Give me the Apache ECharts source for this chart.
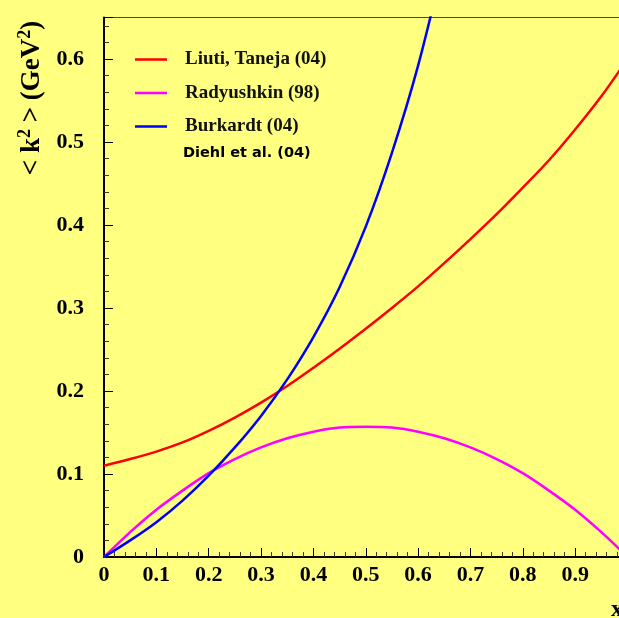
<!DOCTYPE html>
<html>
<head>
<meta charset="utf-8">
<script src="https://cdn.jsdelivr.net/npm/echarts@6/dist/echarts.min.js"></script>
<style>
  html, body { margin: 0; padding: 0; background: #ffff80; }
  #chart { width: 619px; height: 618px; }
</style>
</head>
<body>
<div id="chart"></div>
<script>
// x values (momentum fraction) at which the curves are sampled
const xs = [0, 0.05, 0.1, 0.15, 0.2, 0.25, 0.3, 0.35, 0.4, 0.45, 0.5,
            0.55, 0.6, 0.65, 0.7, 0.75, 0.8, 0.85, 0.9, 0.95, 1.0];

// <k^2> in GeV^2 for each model
const liutiTaneja = [0.110, 0.118, 0.127, 0.138, 0.152, 0.168, 0.186, 0.206, 0.228, 0.251, 0.275,
                     0.300, 0.326, 0.354, 0.383, 0.413, 0.445, 0.478, 0.515, 0.555, 0.600];
const radyushkin  = [0, 0.030, 0.057, 0.080, 0.101, 0.118, 0.132, 0.143, 0.151, 0.156, 0.157,
                     0.156, 0.151, 0.143, 0.132, 0.118, 0.101, 0.080, 0.057, 0.030, 0];
const burkardt    = [0, 0.020, 0.042, 0.068, 0.098, 0.132, 0.170, 0.214, 0.265, 0.325, 0.398,
                     0.487, 0.592, 0.720];

const seriesNames = ['Liuti, Taneja (04)', 'Radyushkin (98)', 'Burkardt (04)'];
const seriesColors = ['#ff0000', '#ff00ff', '#0000ff'];
const extraLegendText = 'Diehl et al. (04)';

const xTicks = [0, 0.1, 0.2, 0.3, 0.4, 0.5, 0.6, 0.7, 0.8, 0.9];
const yTicks = [0, 0.1, 0.2, 0.3, 0.4, 0.5, 0.6];

function pairs(vals) {
  return vals.map((v, i) => [xs[i], v]);
}

const serif = '"Liberation Serif", "Times New Roman", serif';

const chart = echarts.init(document.getElementById('chart'), null, { renderer: 'canvas' });

const lineSeries = [liutiTaneja, radyushkin, burkardt].map((vals, i) => ({
  name: seriesNames[i],
  type: 'line',
  data: pairs(vals),
  smooth: 0.3,
  showSymbol: false,
  clip: true,
  lineStyle: { color: seriesColors[i], width: 2.5 },
  itemStyle: { color: seriesColors[i] },
  z: 3 + i
}));

chart.setOption({
  backgroundColor: '#ffff80',
  animation: false,
  grid: {
    left: 104, right: -8.5, top: 17.5, bottom: 61,
    outerBoundsMode: 'none',
    containLabel: false,
    show: true, borderColor: '#4a4a30', borderWidth: 1, backgroundColor: 'transparent'
  },
  legend: {
    show: true,
    orient: 'vertical',
    left: 135, top: 50,
    padding: 0,
    itemWidth: 32, itemHeight: 2.5,
    itemGap: 14.5,
    icon: 'rect',
    data: seriesNames,
    selectedMode: false,
    textStyle: {
      fontFamily: serif, fontWeight: 'bold', fontSize: 19, color: '#111',
      padding: [0, 0, 0, 13]
    }
  },
  xAxis: {
    type: 'value',
    min: 0, max: 1, interval: 0.1,
    axisLine: { show: true, onZero: false, lineStyle: { color: '#000', width: 2 } },
    axisTick: { show: true, inside: true, length: 9, lineStyle: { color: '#000', width: 1 } },
    minorTick: { show: true, splitNumber: 5, length: 5, lineStyle: { color: '#3a3a20', width: 1 } },
    splitLine: { show: false },
    axisLabel: {
      margin: 7,
      fontFamily: serif, fontWeight: 'bold', fontSize: 22, color: '#000',
      formatter: v => {
        const t = xTicks.find(k => Math.abs(k - v) < 1e-9);
        return t === undefined ? '' : String(t);
      }
    }
  },
  yAxis: {
    type: 'value',
    min: 0, max: 0.65, interval: 0.1,
    axisLine: { show: true, onZero: false, lineStyle: { color: '#000', width: 2 } },
    axisTick: { show: true, inside: true, length: 9, lineStyle: { color: '#000', width: 1 } },
    minorTick: { show: true, splitNumber: 5, length: 5, lineStyle: { color: '#3a3a20', width: 1 } },
    splitLine: { show: false },
    axisLabel: {
      margin: 20,
      fontFamily: serif, fontWeight: 'bold', fontSize: 22, color: '#000',
      formatter: v => {
        const t = yTicks.find(k => Math.abs(k - v) < 1e-9);
        return t === undefined ? '' : String(t);
      }
    }
  },
  graphic: [
    {
      type: 'text',
      x: 183, y: 153,
      style: {
        text: extraLegendText,
        fontFamily: '"DejaVu Sans", sans-serif',
        fontWeight: 'bold', fontSize: 14.5, fill: '#000',
        align: 'left', verticalAlign: 'middle'
      }
    },
    {
      type: 'text',
      x: 32, y: 98,
      rotation: Math.PI / 2,
      style: {
        text: '< k{sup|2} > (GeV{sup|2})',
        fontFamily: serif, fontWeight: 'bold', fontSize: 27, fill: '#000',
        align: 'center', verticalAlign: 'middle',
        rich: {
          sup: { fontFamily: serif, fontWeight: 'bold', fontSize: 18, fill: '#000',
                 verticalAlign: 'top', lineHeight: 32 }
        }
      }
    },
    {
      type: 'text',
      x: 611, y: 598,
      style: {
        text: 'x',
        fontFamily: serif, fontWeight: 'bold', fontSize: 24, fill: '#000',
        align: 'left', verticalAlign: 'top'
      }
    }
  ],
  series: lineSeries
});
</script>
</body>
</html>
